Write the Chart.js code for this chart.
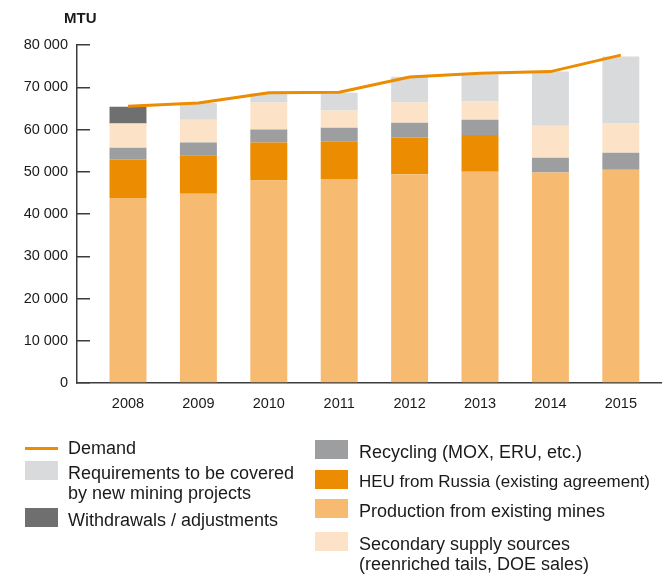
<!DOCTYPE html>
<html>
<head>
<meta charset="utf-8">
<title>Uranium supply and demand</title>
<script src="https://cdn.jsdelivr.net/npm/chart.js@4.4.1/dist/chart.umd.min.js"></script>
<style>
	body { margin: 0; background: #fff; }
	#wrap { position: relative; width: 662px; height: 574px; overflow: hidden; }
	#unit { position: absolute; left: 64px; top: 8px; font: bold 15px 'Liberation Sans', Arial, sans-serif; line-height: 20px; color: #1a1a1a; }
	.lg-item { position: absolute; font: 18px 'Liberation Sans', Arial, sans-serif; line-height: 20px; color: #1a1a1a; }
	.lg-box { position: absolute; left: 0; top: -2.5px; width: 33px; height: 19px; }
	.lg-line { position: absolute; left: 0; top: 8.5px; width: 33px; height: 3px; }
	.lg-text { position: absolute; top: 0; white-space: pre; }
</style>
</head>
<body>
<div id="wrap">
	<canvas id="supplychart"></canvas>
	<div id="unit">MTU</div>
	<div id="legend"></div>
</div>
<script>
var years = [2008, 2009, 2010, 2011, 2012, 2013, 2014, 2015];

// stacked supply, bottom to top
var production   = [43800, 44800, 47900, 48300, 49400, 50000, 49800, 50500];
var heu          = [9100, 9100, 9000, 8900, 8700, 8700, 0, 0];
var recycling    = [2800, 3000, 3100, 3200, 3500, 3600, 3500, 4000];
var secondary    = [5700, 5400, 6400, 4100, 4800, 4300, 7600, 6900];
var withdrawals  = [4000, 0, 0, 0, 0, 0, 0, 0];
var requirements = [0, 4000, 2100, 4200, 6100, 6400, 12800, 15900];

var demand = [65500, 66300, 68700, 68800, 72400, 73300, 73700, 77600];

var yTicks = [0, 10000, 20000, 30000, 40000, 50000, 60000, 70000, 80000];

var fontAxis = "'Liberation Sans', Arial, sans-serif";

function spaced(v) {
	return String(v).replace(/\B(?=(\d{3})+(?!\d))/g, ' ');
}

function barSet(key, label, data, color) {
	return { key: key, label: label, data: data, backgroundColor: color, borderWidth: 0, stack: 'supply', order: 1 };
}

var ctx = document.getElementById('supplychart').getContext('2d');

var supplychart = new Chart(ctx, {
	type: 'bar',
	data: {
		labels: years,
		datasets: [
			barSet('production', 'Production from existing mines', production, '#F6BB71'),
			barSet('heu', 'HEU from Russia (existing agreement)', heu, '#EC8C00'),
			barSet('recycling', 'Recycling (MOX, ERU, etc.)', recycling, '#9D9E9F'),
			barSet('secondary', 'Secondary supply sources\n(reenriched tails, DOE sales)', secondary, '#FCE3C7'),
			barSet('withdrawals', 'Withdrawals / adjustments', withdrawals, '#6F6F70'),
			barSet('requirements', 'Requirements to be covered\nby new mining projects', requirements, '#D9DADB'),
			{
				key: 'demand',
				type: 'line',
				label: 'Demand',
				data: demand,
				borderColor: '#EC8C00',
				backgroundColor: '#EC8C00',
				borderWidth: 3,
				pointRadius: 0,
				tension: 0,
				stack: 'demand',
				order: 0
			}
		]
	},
	options: {
		responsive: true,
		maintainAspectRatio: false,
		animation: false,
		layout: { padding: { top: 45, right: 0, bottom: 151, left: 0 } },
		datasets: { bar: { categoryPercentage: 1, barPercentage: 0.525 } },
		plugins: {
			legend: { display: false },
			tooltip: { enabled: false }
		},
		scales: {
			x: {
				type: 'linear',
				stacked: true,
				offset: false,
				min: 2007.2756,
				max: 2015.585,
				afterBuildTicks: function (scale) {
					scale.ticks = years.map(function (y) { return { value: y }; });
				},
				afterFit: function (scale) { scale.height = 40; },
				grid: { display: true, drawOnChartArea: false, drawTicks: false, offset: false },
				border: { display: true, color: '#3c3c3c', width: 1.5 },
				ticks: {
					autoSkip: false,
					maxRotation: 0,
					padding: 12,
					color: '#1a1a1a',
					font: { family: fontAxis, size: 14.5 },
					callback: function (v) { return String(v); }
				}
			},
			y: {
				stacked: true,
				min: 0,
				max: 80000,
				afterBuildTicks: function (scale) {
					scale.ticks = yTicks.map(function (v) { return { value: v }; });
				},
				afterFit: function (scale) { scale.width = 77; },
				// tick marks point into the plot
				grid: { drawOnChartArea: false, drawTicks: true, tickLength: -13, color: '#3c3c3c', lineWidth: 1.5 },
				border: { display: true, color: '#3c3c3c', width: 1.5 },
				ticks: {
					padding: 22,
					color: '#1a1a1a',
					font: { family: fontAxis, size: 14.5 },
					callback: function (v) { return spaced(v); }
				}
			}
		}
	}
});

// html legend in two columns, built from the chart's datasets
var legendCols = [
	{ x: 25, textX: 43, keys: ['demand', 'requirements', 'withdrawals'], tops: [438, 463, 510] },
	{ x: 315, textX: 44, keys: ['recycling', 'heu', 'production', 'secondary'], tops: [442, 472, 501, 534] }
];

var legend = document.getElementById('legend');
legendCols.forEach(function (col) {
	col.keys.forEach(function (key, i) {
		var ds = supplychart.data.datasets.filter(function (d) { return d.key === key; })[0];
		var item = document.createElement('div');
		item.className = 'lg-item';
		item.style.left = col.x + 'px';
		item.style.top = col.tops[i] + 'px';

		var mark = document.createElement('span');
		mark.className = ds.type === 'line' ? 'lg-line' : 'lg-box';
		mark.style.background = ds.backgroundColor;

		var text = document.createElement('span');
		text.className = 'lg-text';
		text.style.left = col.textX + 'px';
		text.textContent = ds.label;

		item.appendChild(mark);
		item.appendChild(text);
		legend.appendChild(item);

		// shrink long labels so they stay inside the picture
		var room = 650 - col.x - col.textX;
		if (text.offsetWidth > room) {
			text.style.fontSize = (18 * room / text.offsetWidth).toFixed(2) + 'px';
		}
	});
});
</script>
</body>
</html>
